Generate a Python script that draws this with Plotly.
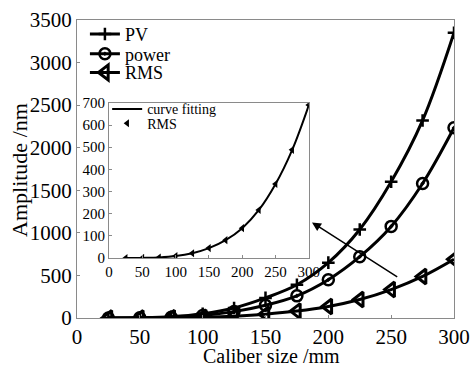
import plotly.graph_objects as go

caliber = [25, 50, 75, 100, 125, 150, 175, 200, 225, 250, 275, 300]
pv = [0, 3, 15, 50, 118, 236, 390, 650, 1040, 1600, 2320, 3350]
power = [0, 2, 8, 30, 75, 150, 260, 450, 720, 1076, 1580, 2235]
rms = [0, 1, 3, 9, 22, 45, 81, 135, 217, 334, 488, 690]

x_ticks = [0, 50, 100, 150, 200, 250, 300]
y_ticks = [0, 500, 1000, 1500, 2000, 2500, 3000, 3500]
inset_y_ticks = [0, 100, 200, 300, 400, 500, 600, 700]

FONT = "Liberation Serif"
GRAY = "#8a8a8a"

fig = go.Figure()

fig.add_trace(go.Scatter(x=caliber, y=pv, name="PV", mode="lines+markers",
                         line=dict(color="black", width=3, shape="spline"),
                         marker=dict(symbol="cross-thin", size=9, color="black",
                                     line=dict(color="black", width=2.5)),
                         legend="legend"))
fig.add_trace(go.Scatter(x=caliber, y=power, name="power", mode="lines+markers",
                         line=dict(color="black", width=3, shape="spline"),
                         marker=dict(symbol="circle-open-dot", size=11, color="black",
                                     line=dict(color="black", width=2.5)),
                         legend="legend3"))
fig.add_trace(go.Scatter(x=caliber, y=rms, name="RMS", mode="lines+markers",
                         line=dict(color="black", width=3, shape="spline"),
                         marker=dict(symbol="triangle-left-open", size=13, color="black",
                                     line=dict(color="black", width=3)),
                         legend="legend4"))

# inset
fig.add_trace(go.Scatter(x=caliber, y=rms, name="curve fitting", mode="lines",
                         line=dict(color="black", width=2, shape="spline"),
                         xaxis="x2", yaxis="y2", legend="legend2"))
fig.add_trace(go.Scatter(x=caliber, y=rms, name="RMS", mode="markers",
                         marker=dict(symbol="triangle-left", size=7, color="black"),
                         xaxis="x2", yaxis="y2", legend="legend5"))

axis_common = dict(showline=True, mirror=True, linecolor=GRAY, linewidth=1,
                   ticks="inside", ticklen=3, tickcolor=GRAY, showgrid=False,
                   zeroline=False, automargin=False)

def leg(x, y, size):
    return dict(x=x, y=y, xanchor="left", yanchor="middle", bgcolor="rgba(0,0,0,0)",
                font=dict(size=size), itemwidth=30, borderwidth=0)

fig.update_layout(
    width=470, height=366,
    margin=dict(l=77, r=16, t=20, b=48),
    paper_bgcolor="white", plot_bgcolor="white",
    font=dict(family=FONT, color="black", size=20),
    xaxis=dict(range=[0, 300], tickvals=x_ticks, tickfont=dict(size=21), **axis_common),
    yaxis=dict(range=[0, 3500], tickvals=y_ticks, tickfont=dict(size=21), **axis_common),
    xaxis2=dict(domain=[0.085, 0.615], anchor="y2", range=[0, 300], tickvals=x_ticks,
                tickfont=dict(size=15), **axis_common),
    yaxis2=dict(domain=[0.201, 0.722], anchor="x2", range=[0, 700], tickvals=inset_y_ticks,
                tickfont=dict(size=15), **axis_common),
    legend=leg(0.021, 0.952, 18),
    legend3=leg(0.021, 0.886, 18),
    legend4=leg(0.021, 0.823, 18),
    legend2=leg(0.08, 0.700, 14),
    legend5=leg(0.08, 0.652, 14),
    showlegend=True,
)

fig.add_annotation(text="Caliber size /mm", x=0.515, y=-0.128, xref="paper", yref="paper",
                   showarrow=False, xanchor="center", yanchor="middle", font=dict(size=20))
fig.add_annotation(text="Amplitude /nm", x=-0.151, y=0.497, xref="paper", yref="paper",
                   showarrow=False, xanchor="center", yanchor="middle", textangle=-90,
                   font=dict(size=22))

fig.add_annotation(x=187, y=1123, ax=256, ay=473, xref="x", yref="y", axref="x", ayref="y",
                   showarrow=True, arrowhead=2, arrowsize=1.2, arrowwidth=1.5,
                   arrowcolor="black", text="")

fig.write_html("out.html", config={"displayModeBar": False},
               post_script="document.body.style.margin='0px';")
